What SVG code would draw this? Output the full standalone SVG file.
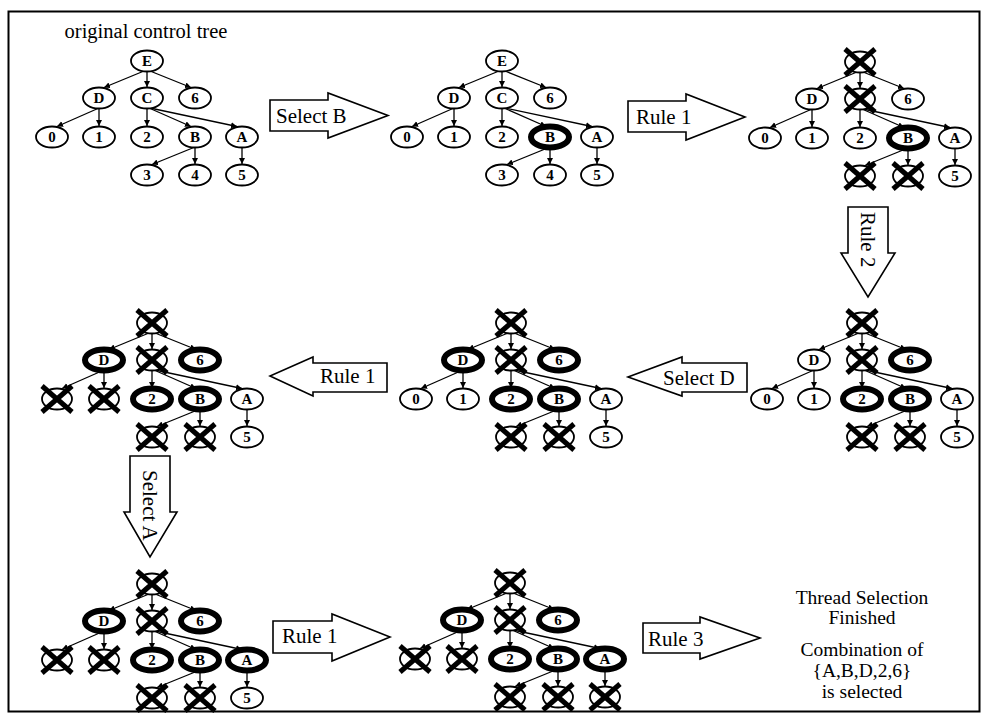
<svg xmlns="http://www.w3.org/2000/svg" xmlns:xlink="http://www.w3.org/1999/xlink" width="984" height="716" viewBox="0 0 984 716">
<style>
.n{fill:#fff;stroke:#000;stroke-width:1.8}
.b{fill:#fff;stroke:#000;stroke-width:6}
.l{font-family:"Liberation Serif",serif;font-weight:bold;font-size:15px;text-anchor:middle}
.e{stroke:#000;stroke-width:1.3;fill:none;marker-end:url(#ah)}
.ba{fill:#fff;stroke:#000;stroke-width:1.6;stroke-linejoin:miter}
.al{font-family:"Liberation Serif",serif;font-size:21px}
.ft{font-family:"Liberation Serif",serif;font-size:19.5px;text-anchor:middle}
.xl{stroke:#000;stroke-width:5}
</style>
<defs>
<marker id="ah" markerUnits="userSpaceOnUse" markerWidth="7" markerHeight="7" refX="6" refY="3" orient="auto"><path d="M0,0 L6,3 L0,6 Z" fill="#000"/></marker>
<g id="xn"><ellipse class="n" rx="15" ry="10.5" stroke-width="2.5"/><line class="xl" x1="-15" y1="-13" x2="15" y2="13"/><line class="xl" x1="-15" y1="13" x2="15" y2="-13"/></g>
</defs>
<rect x="8.5" y="11.5" width="971" height="700" fill="#fff" stroke="#000" stroke-width="2"/>
<text x="146" y="38" font-family="Liberation Serif, serif" font-size="20.5" text-anchor="middle">original control tree</text>

<g id="connectors">
<g transform="translate(147,61)"><path class="e" d="M-3,10 L-43,26.5"/><path class="e" d="M0,10 L0,26"/><path class="e" d="M3,10 L44,26.5"/><path class="e" d="M-48,47 L-90,65.5"/><path class="e" d="M-48,47 L-48,65"/><path class="e" d="M0,47 L0,65"/><path class="e" d="M2,47 L44,65.5"/><path class="e" d="M3,47 L90,65.5"/><path class="e" d="M48,86 L5,103.5"/><path class="e" d="M48,86 L48,103"/><path class="e" d="M95,86 L95,103"/></g>
<g transform="translate(502,61)"><path class="e" d="M-3,10 L-43,26.5"/><path class="e" d="M0,10 L0,26"/><path class="e" d="M3,10 L44,26.5"/><path class="e" d="M-48,47 L-90,65.5"/><path class="e" d="M-48,47 L-48,65"/><path class="e" d="M0,47 L0,65"/><path class="e" d="M2,47 L44,65.5"/><path class="e" d="M3,47 L90,65.5"/><path class="e" d="M48,86 L5,103.5"/><path class="e" d="M48,86 L48,103"/><path class="e" d="M95,86 L95,103"/></g>
<g transform="translate(860,62)"><path class="e" d="M-3,10 L-43,26.5"/><path class="e" d="M0,10 L0,26"/><path class="e" d="M3,10 L44,26.5"/><path class="e" d="M-48,47 L-90,65.5"/><path class="e" d="M-48,47 L-48,65"/><path class="e" d="M0,47 L0,65"/><path class="e" d="M2,47 L44,65.5"/><path class="e" d="M3,47 L90,65.5"/><path class="e" d="M48,86 L5,103.5"/><path class="e" d="M48,86 L48,103"/><path class="e" d="M95,86 L95,103"/></g>
<g transform="translate(862,323)"><path class="e" d="M-3,10 L-43,26.5"/><path class="e" d="M0,10 L0,26"/><path class="e" d="M3,10 L44,26.5"/><path class="e" d="M-48,47 L-90,65.5"/><path class="e" d="M-48,47 L-48,65"/><path class="e" d="M0,47 L0,65"/><path class="e" d="M2,47 L44,65.5"/><path class="e" d="M3,47 L90,65.5"/><path class="e" d="M48,86 L5,103.5"/><path class="e" d="M48,86 L48,103"/><path class="e" d="M95,86 L95,103"/></g>
<g transform="translate(511,323)"><path class="e" d="M-3,10 L-43,26.5"/><path class="e" d="M0,10 L0,26"/><path class="e" d="M3,10 L44,26.5"/><path class="e" d="M-48,47 L-90,65.5"/><path class="e" d="M-48,47 L-48,65"/><path class="e" d="M0,47 L0,65"/><path class="e" d="M2,47 L44,65.5"/><path class="e" d="M3,47 L90,65.5"/><path class="e" d="M48,86 L5,103.5"/><path class="e" d="M48,86 L48,103"/><path class="e" d="M95,86 L95,103"/></g>
<g transform="translate(152,323)"><path class="e" d="M-3,10 L-43,26.5"/><path class="e" d="M0,10 L0,26"/><path class="e" d="M3,10 L44,26.5"/><path class="e" d="M-48,47 L-90,65.5"/><path class="e" d="M-48,47 L-48,65"/><path class="e" d="M0,47 L0,65"/><path class="e" d="M2,47 L44,65.5"/><path class="e" d="M3,47 L90,65.5"/><path class="e" d="M48,86 L5,103.5"/><path class="e" d="M48,86 L48,103"/><path class="e" d="M95,86 L95,103"/></g>
<g transform="translate(152,584)"><path class="e" d="M-3,10 L-43,26.5"/><path class="e" d="M0,10 L0,26"/><path class="e" d="M3,10 L44,26.5"/><path class="e" d="M-48,47 L-90,65.5"/><path class="e" d="M-48,47 L-48,65"/><path class="e" d="M0,47 L0,65"/><path class="e" d="M2,47 L44,65.5"/><path class="e" d="M3,47 L90,65.5"/><path class="e" d="M48,86 L5,103.5"/><path class="e" d="M48,86 L48,103"/><path class="e" d="M95,86 L95,103"/></g>
<g transform="translate(510,583)"><path class="e" d="M-3,10 L-43,26.5"/><path class="e" d="M0,10 L0,26"/><path class="e" d="M3,10 L44,26.5"/><path class="e" d="M-48,47 L-90,65.5"/><path class="e" d="M-48,47 L-48,65"/><path class="e" d="M0,47 L0,65"/><path class="e" d="M2,47 L44,65.5"/><path class="e" d="M3,47 L90,65.5"/><path class="e" d="M48,86 L5,103.5"/><path class="e" d="M48,86 L48,103"/><path class="e" d="M95,86 L95,103"/></g>
</g>

<g id="transitions">
<g id="arrow-select-b"><path class="ba" d="M270,100 L328,100 L328,93 L388,115.5 L328,138 L328,131 L270,131 Z"/><text class="al" x="276" y="123">Select B</text></g>
<g id="arrow-rule1-top"><path class="ba" d="M628,101 L686,101 L686,94 L745,117 L686,140 L686,132 L628,132 Z"/><text class="al" x="636" y="124">Rule 1</text></g>
<g id="arrow-rule2"><path class="ba" d="M848,207 L888,207 L888,253 L895,253 L868,297 L841,253 L848,253 Z"/><text class="al" transform="translate(861,212) rotate(90)">Rule 2</text></g>
<g id="arrow-select-d"><path class="ba" d="M747,363 L682,363 L682,357 L628,377 L682,396 L682,392 L747,392 Z"/><text class="al" x="663" y="385">Select D</text></g>
<g id="arrow-rule1-mid"><path class="ba" d="M387,363 L313,363 L313,357 L270,376 L313,396 L313,392 L387,392 Z"/><text class="al" x="320" y="383">Rule 1</text></g>
<g id="arrow-select-a"><path class="ba" d="M130,456 L170,456 L170,512 L177,512 L150,557 L124,512 L130,512 Z"/><text class="al" transform="translate(143,470) rotate(90)">Select A</text></g>
<g id="arrow-rule1-bottom"><path class="ba" d="M273,621 L332,621 L332,614 L390,637 L332,661 L332,653 L273,653 Z"/><text class="al" x="282" y="643">Rule 1</text></g>
<g id="arrow-rule3"><path class="ba" d="M643,623 L700,623 L700,617 L760,638 L700,659 L700,653 L643,653 Z"/><text class="al" x="648" y="646">Rule 3</text></g>
</g>

<g id="tree1" transform="translate(147,61)">
<g id="t1-E"><ellipse class="n" rx="16" ry="10.5"/><text class="l" y="5">E</text></g>
<g id="t1-D" transform="translate(-48,37)"><ellipse class="n" rx="16" ry="10.5"/><text class="l" y="5">D</text></g>
<g id="t1-C" transform="translate(0,37)"><ellipse class="n" rx="16" ry="10.5"/><text class="l" y="5">C</text></g>
<g id="t1-6" transform="translate(48,37)"><ellipse class="n" rx="16" ry="10.5"/><text class="l" y="5">6</text></g>
<g id="t1-0" transform="translate(-95,76)"><ellipse class="n" rx="16" ry="10.5"/><text class="l" y="5">0</text></g>
<g id="t1-1" transform="translate(-48,76)"><ellipse class="n" rx="16" ry="10.5"/><text class="l" y="5">1</text></g>
<g id="t1-2" transform="translate(0,76)"><ellipse class="n" rx="16" ry="10.5"/><text class="l" y="5">2</text></g>
<g id="t1-B" transform="translate(48,76)"><ellipse class="n" rx="16" ry="10.5"/><text class="l" y="5">B</text></g>
<g id="t1-A" transform="translate(95,76)"><ellipse class="n" rx="16" ry="10.5"/><text class="l" y="5">A</text></g>
<g id="t1-3" transform="translate(0,114)"><ellipse class="n" rx="16" ry="10.5"/><text class="l" y="5">3</text></g>
<g id="t1-4" transform="translate(48,114)"><ellipse class="n" rx="16" ry="10.5"/><text class="l" y="5">4</text></g>
<g id="t1-5" transform="translate(95,114)"><ellipse class="n" rx="16" ry="10.5"/><text class="l" y="5">5</text></g>
</g>

<g id="tree2" transform="translate(502,61)">
<g id="t2-E"><ellipse class="n" rx="16" ry="10.5"/><text class="l" y="5">E</text></g>
<g id="t2-D" transform="translate(-48,37)"><ellipse class="n" rx="16" ry="10.5"/><text class="l" y="5">D</text></g>
<g id="t2-C" transform="translate(0,37)"><ellipse class="n" rx="16" ry="10.5"/><text class="l" y="5">C</text></g>
<g id="t2-6" transform="translate(48,37)"><ellipse class="n" rx="16" ry="10.5"/><text class="l" y="5">6</text></g>
<g id="t2-0" transform="translate(-95,76)"><ellipse class="n" rx="16" ry="10.5"/><text class="l" y="5">0</text></g>
<g id="t2-1" transform="translate(-48,76)"><ellipse class="n" rx="16" ry="10.5"/><text class="l" y="5">1</text></g>
<g id="t2-2" transform="translate(0,76)"><ellipse class="n" rx="16" ry="10.5"/><text class="l" y="5">2</text></g>
<g id="t2-B" transform="translate(48,76)"><ellipse class="b" rx="19" ry="10.5"/><text class="l" y="5">B</text></g>
<g id="t2-A" transform="translate(95,76)"><ellipse class="n" rx="16" ry="10.5"/><text class="l" y="5">A</text></g>
<g id="t2-3" transform="translate(0,114)"><ellipse class="n" rx="16" ry="10.5"/><text class="l" y="5">3</text></g>
<g id="t2-4" transform="translate(48,114)"><ellipse class="n" rx="16" ry="10.5"/><text class="l" y="5">4</text></g>
<g id="t2-5" transform="translate(95,114)"><ellipse class="n" rx="16" ry="10.5"/><text class="l" y="5">5</text></g>
</g>

<g id="tree3" transform="translate(860,62)">
<g id="t3-E"><use href="#xn"/></g>
<g id="t3-D" transform="translate(-48,37)"><ellipse class="n" rx="16" ry="10.5"/><text class="l" y="5">D</text></g>
<g id="t3-C" transform="translate(0,37)"><use href="#xn"/></g>
<g id="t3-6" transform="translate(48,37)"><ellipse class="n" rx="16" ry="10.5"/><text class="l" y="5">6</text></g>
<g id="t3-0" transform="translate(-95,76)"><ellipse class="n" rx="16" ry="10.5"/><text class="l" y="5">0</text></g>
<g id="t3-1" transform="translate(-48,76)"><ellipse class="n" rx="16" ry="10.5"/><text class="l" y="5">1</text></g>
<g id="t3-2" transform="translate(0,76)"><ellipse class="n" rx="16" ry="10.5"/><text class="l" y="5">2</text></g>
<g id="t3-B" transform="translate(48,76)"><ellipse class="b" rx="19" ry="10.5"/><text class="l" y="5">B</text></g>
<g id="t3-A" transform="translate(95,76)"><ellipse class="n" rx="16" ry="10.5"/><text class="l" y="5">A</text></g>
<g id="t3-3" transform="translate(0,114)"><use href="#xn"/></g>
<g id="t3-4" transform="translate(48,114)"><use href="#xn"/></g>
<g id="t3-5" transform="translate(95,114)"><ellipse class="n" rx="16" ry="10.5"/><text class="l" y="5">5</text></g>
</g>

<g id="tree4" transform="translate(862,323)">
<g id="t4-E"><use href="#xn"/></g>
<g id="t4-D" transform="translate(-48,37)"><ellipse class="n" rx="16" ry="10.5"/><text class="l" y="5">D</text></g>
<g id="t4-C" transform="translate(0,37)"><use href="#xn"/></g>
<g id="t4-6" transform="translate(48,37)"><ellipse class="b" rx="19" ry="10.5"/><text class="l" y="5">6</text></g>
<g id="t4-0" transform="translate(-95,76)"><ellipse class="n" rx="16" ry="10.5"/><text class="l" y="5">0</text></g>
<g id="t4-1" transform="translate(-48,76)"><ellipse class="n" rx="16" ry="10.5"/><text class="l" y="5">1</text></g>
<g id="t4-2" transform="translate(0,76)"><ellipse class="b" rx="19" ry="10.5"/><text class="l" y="5">2</text></g>
<g id="t4-B" transform="translate(48,76)"><ellipse class="b" rx="19" ry="10.5"/><text class="l" y="5">B</text></g>
<g id="t4-A" transform="translate(95,76)"><ellipse class="n" rx="16" ry="10.5"/><text class="l" y="5">A</text></g>
<g id="t4-3" transform="translate(0,114)"><use href="#xn"/></g>
<g id="t4-4" transform="translate(48,114)"><use href="#xn"/></g>
<g id="t4-5" transform="translate(95,114)"><ellipse class="n" rx="16" ry="10.5"/><text class="l" y="5">5</text></g>
</g>

<g id="tree5" transform="translate(511,323)">
<g id="t5-E"><use href="#xn"/></g>
<g id="t5-D" transform="translate(-48,37)"><ellipse class="b" rx="19" ry="10.5"/><text class="l" y="5">D</text></g>
<g id="t5-C" transform="translate(0,37)"><use href="#xn"/></g>
<g id="t5-6" transform="translate(48,37)"><ellipse class="b" rx="19" ry="10.5"/><text class="l" y="5">6</text></g>
<g id="t5-0" transform="translate(-95,76)"><ellipse class="n" rx="16" ry="10.5"/><text class="l" y="5">0</text></g>
<g id="t5-1" transform="translate(-48,76)"><ellipse class="n" rx="16" ry="10.5"/><text class="l" y="5">1</text></g>
<g id="t5-2" transform="translate(0,76)"><ellipse class="b" rx="19" ry="10.5"/><text class="l" y="5">2</text></g>
<g id="t5-B" transform="translate(48,76)"><ellipse class="b" rx="19" ry="10.5"/><text class="l" y="5">B</text></g>
<g id="t5-A" transform="translate(95,76)"><ellipse class="n" rx="16" ry="10.5"/><text class="l" y="5">A</text></g>
<g id="t5-3" transform="translate(0,114)"><use href="#xn"/></g>
<g id="t5-4" transform="translate(48,114)"><use href="#xn"/></g>
<g id="t5-5" transform="translate(95,114)"><ellipse class="n" rx="16" ry="10.5"/><text class="l" y="5">5</text></g>
</g>

<g id="tree6" transform="translate(152,323)">
<g id="t6-E"><use href="#xn"/></g>
<g id="t6-D" transform="translate(-48,37)"><ellipse class="b" rx="19" ry="10.5"/><text class="l" y="5">D</text></g>
<g id="t6-C" transform="translate(0,37)"><use href="#xn"/></g>
<g id="t6-6" transform="translate(48,37)"><ellipse class="b" rx="19" ry="10.5"/><text class="l" y="5">6</text></g>
<g id="t6-0" transform="translate(-95,76)"><use href="#xn"/></g>
<g id="t6-1" transform="translate(-48,76)"><use href="#xn"/></g>
<g id="t6-2" transform="translate(0,76)"><ellipse class="b" rx="19" ry="10.5"/><text class="l" y="5">2</text></g>
<g id="t6-B" transform="translate(48,76)"><ellipse class="b" rx="19" ry="10.5"/><text class="l" y="5">B</text></g>
<g id="t6-A" transform="translate(95,76)"><ellipse class="n" rx="16" ry="10.5"/><text class="l" y="5">A</text></g>
<g id="t6-3" transform="translate(0,114)"><use href="#xn"/></g>
<g id="t6-4" transform="translate(48,114)"><use href="#xn"/></g>
<g id="t6-5" transform="translate(95,114)"><ellipse class="n" rx="16" ry="10.5"/><text class="l" y="5">5</text></g>
</g>

<g id="tree7" transform="translate(152,584)">
<g id="t7-E"><use href="#xn"/></g>
<g id="t7-D" transform="translate(-48,37)"><ellipse class="b" rx="19" ry="10.5"/><text class="l" y="5">D</text></g>
<g id="t7-C" transform="translate(0,37)"><use href="#xn"/></g>
<g id="t7-6" transform="translate(48,37)"><ellipse class="b" rx="19" ry="10.5"/><text class="l" y="5">6</text></g>
<g id="t7-0" transform="translate(-95,76)"><use href="#xn"/></g>
<g id="t7-1" transform="translate(-48,76)"><use href="#xn"/></g>
<g id="t7-2" transform="translate(0,76)"><ellipse class="b" rx="19" ry="10.5"/><text class="l" y="5">2</text></g>
<g id="t7-B" transform="translate(48,76)"><ellipse class="b" rx="19" ry="10.5"/><text class="l" y="5">B</text></g>
<g id="t7-A" transform="translate(95,76)"><ellipse class="b" rx="19" ry="10.5"/><text class="l" y="5">A</text></g>
<g id="t7-3" transform="translate(0,114)"><use href="#xn"/></g>
<g id="t7-4" transform="translate(48,114)"><use href="#xn"/></g>
<g id="t7-5" transform="translate(95,114)"><ellipse class="n" rx="16" ry="10.5"/><text class="l" y="5">5</text></g>
</g>

<g id="tree8" transform="translate(510,583)">
<g id="t8-E"><use href="#xn"/></g>
<g id="t8-D" transform="translate(-48,37)"><ellipse class="b" rx="19" ry="10.5"/><text class="l" y="5">D</text></g>
<g id="t8-C" transform="translate(0,37)"><use href="#xn"/></g>
<g id="t8-6" transform="translate(48,37)"><ellipse class="b" rx="19" ry="10.5"/><text class="l" y="5">6</text></g>
<g id="t8-0" transform="translate(-95,76)"><use href="#xn"/></g>
<g id="t8-1" transform="translate(-48,76)"><use href="#xn"/></g>
<g id="t8-2" transform="translate(0,76)"><ellipse class="b" rx="19" ry="10.5"/><text class="l" y="5">2</text></g>
<g id="t8-B" transform="translate(48,76)"><ellipse class="b" rx="19" ry="10.5"/><text class="l" y="5">B</text></g>
<g id="t8-A" transform="translate(95,76)"><ellipse class="b" rx="19" ry="10.5"/><text class="l" y="5">A</text></g>
<g id="t8-3" transform="translate(0,114)"><use href="#xn"/></g>
<g id="t8-4" transform="translate(48,114)"><use href="#xn"/></g>
<g id="t8-5" transform="translate(95,114)"><use href="#xn"/></g>
</g>

<g id="result">
<text class="ft" x="862" y="604">Thread Selection</text>
<text class="ft" x="862" y="624">Finished</text>
<text class="ft" x="862" y="656">Combination of</text>
<text class="ft" x="862" y="677">{A,B,D,2,6}</text>
<text class="ft" x="862" y="698">is selected</text>
</g>
</svg>
